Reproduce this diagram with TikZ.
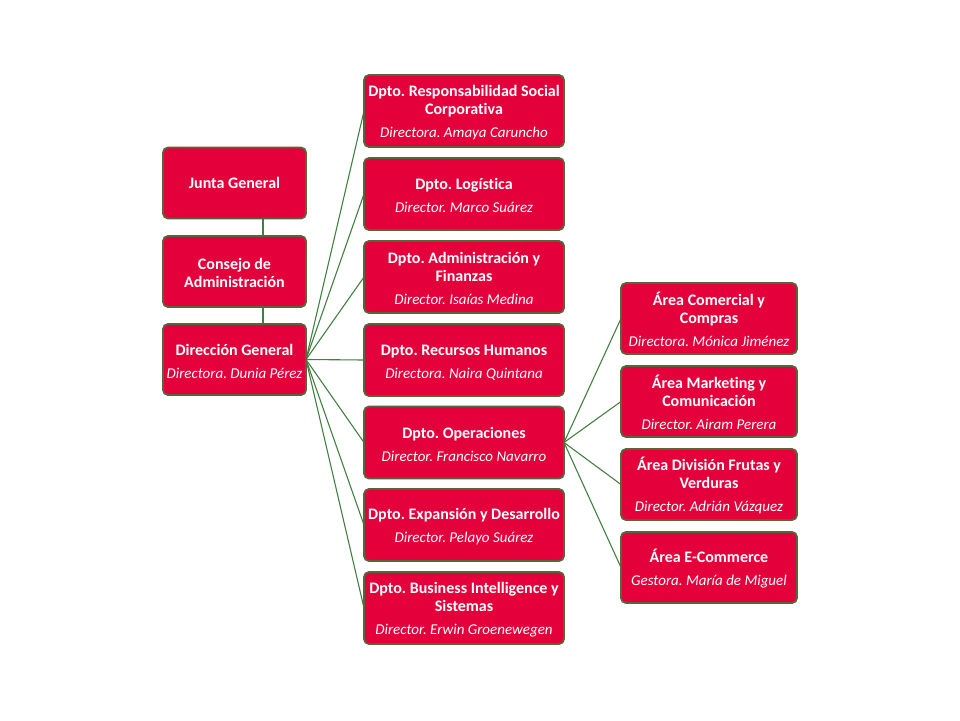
\documentclass[tikz,border=0pt]{standalone}
\usepackage{fontspec}
\setmainfont{Carlito}[Ligatures=NoCommon]
\frenchspacing
\definecolor{boxfill}{RGB}{228,0,58}
\definecolor{boxedge}{RGB}{88,100,58}
\definecolor{linkcol}{RGB}{66,128,66}
\newcommand{\ttl}[1]{{\fontsize{16}{18}\selectfont\bfseries #1}}
\newcommand{\ttlf}[1]{{\fontsize{16}{18}\selectfont\bfseries\rule{0pt}{15pt}#1}}
\newcommand{\who}[1]{{\fontsize{15}{18}\selectfont\itshape #1}}
\begin{document}
\begin{tikzpicture}[x=1pt,y=-1pt,
  orgbox/.style={draw=boxedge, line width=1.8pt, fill=boxfill, rounded corners=5pt,
    text=white, align=center, inner sep=0pt, font=\fontsize{16}{18}\selectfont},
  leftbox/.style={orgbox, minimum width=143pt, minimum height=71pt},
  midbox/.style={orgbox, minimum width=200pt, minimum height=72pt},
  rightbox/.style={orgbox, minimum width=176pt, minimum height=71pt},
  link/.style={draw=linkcol, line width=1.1pt}]
\useasboundingbox (0,0) rectangle (960,720);
% connectors first (behind boxes)
\coordinate (jl) at (263,218);
\coordinate (cu) at (263,236);
\coordinate (cl) at (263,307);
\coordinate (du) at (263,324);
\draw[link] (jl) -- (cu);
\draw[link] (cl) -- (du);
\coordinate (dge) at (306,359.5);
\coordinate (opee) at (564,442.5);
\foreach \y/\n in {111/rsc,194/log,277/adm,360/rrhh,442.5/ope,525/exp,608/bi}
  \coordinate (\n w) at (364,\y);
\foreach \y/\n in {318.5/com,401.5/mkt,484.5/fru,567.5/eco}
  \coordinate (\n w) at (621,\y);
\foreach \t in {rsc,log,adm,rrhh,ope,exp,bi} \draw[link] (dge) -- (\t w);
\foreach \t in {com,mkt,fru,eco} \draw[link] (opee) -- (\t w);
% left column
\node[leftbox] (junta) at (234.5,183) {\ttl{Junta General}};
\node[leftbox] (cons) at (234.5,271.5) {\ttlf{Consejo de}\\\ttl{Administración}};
\node[leftbox] (dg) at (234.5,359.5) {\ttlf{Dirección General}\\[5pt]\who{Directora. Dunia Pérez}};
% middle column
\node[midbox] (rsc) at (464,111) {\ttlf{Dpto. Responsabilidad Social}\\\ttl{Corporativa}\\[5pt]\who{Directora. Amaya Caruncho}};
\node[midbox] (log) at (464,194) {\ttlf{Dpto. Logística}\\[5pt]\who{Director. Marco Suárez}};
\node[midbox] (adm) at (464,277) {\ttlf{Dpto. Administración y}\\\ttl{Finanzas}\\[5pt]\who{Director. Isaías Medina}};
\node[midbox] (rrhh) at (464,360) {\ttlf{Dpto. Recursos Humanos}\\[5pt]\who{Directora. Naira Quintana}};
\node[midbox] (ope) at (464,442.5) {\ttlf{Dpto. Operaciones}\\[5pt]\who{Director. Francisco Navarro}};
\node[midbox] (exp) at (464,525) {\ttlf{Dpto. Expansión y Desarrollo}\\[5pt]\who{Director. Pelayo Suárez}};
\node[midbox] (bi) at (464,608) {\ttlf{Dpto. Business Intelligence y}\\\ttl{Sistemas}\\[5pt]\who{Director. Erwin Groenewegen}};
% right column
\node[rightbox] (com) at (709,318.5) {\ttlf{Área Comercial y}\\\ttl{Compras}\\[5pt]\who{Directora. Mónica Jiménez}};
\node[rightbox] (mkt) at (709,401.5) {\ttlf{Área Marketing y}\\\ttl{Comunicación}\\[5pt]\who{Director. Airam Perera}};
\node[rightbox] (fru) at (709,484.5) {\ttlf{Área División Frutas y}\\\ttl{Verduras}\\[5pt]\who{Director. Adrián Vázquez}};
\node[rightbox] (eco) at (709,567.5) {\ttlf{Área E-Commerce}\\[5pt]\who{Gestora. María de Miguel}};
\end{tikzpicture}
\end{document}
